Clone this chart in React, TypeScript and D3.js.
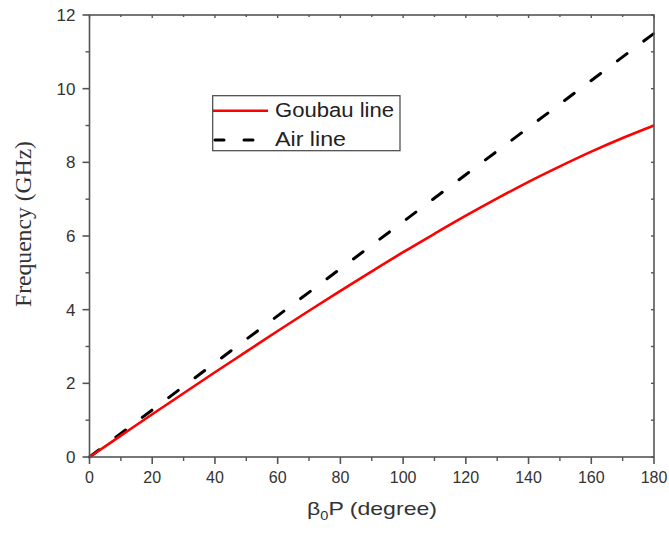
import React from "react";
import * as d3 from "d3";

const goubauX = [0, 10, 20, 30, 40, 50, 60, 70, 80, 90, 100, 110, 120, 130, 140, 150, 160, 170, 180];
const goubauY = [0, 0.58, 1.16, 1.73, 2.3, 2.86, 3.42, 3.97, 4.51, 5.04, 5.56, 6.06, 6.55, 7.02, 7.47, 7.89, 8.29, 8.66, 9.0];
const airX = [0, 180];
const airY = [0, 11.5];
const xTicks = [0, 20, 40, 60, 80, 100, 120, 140, 160, 180];
const yTicks = [0, 2, 4, 6, 8, 10, 12];
const legendLabels = ["Goubau line", "Air line"];

const W = 669, H = 536;
const L = 89.5, R = 654, T = 15, B = 457;

export default function App() {
  const x = d3.scaleLinear().domain([0, 180]).range([L, R]);
  const y = d3.scaleLinear().domain([0, 12]).range([B, T]);
  const line = d3.line<[number, number]>().x(d => x(d[0])).y(d => y(d[1])).curve(d3.curveMonotoneX);
  const goubau = line(goubauX.map((v, i) => [v, goubauY[i]]) as [number, number][]) || "";
  const air = line(airX.map((v, i) => [v, airY[i]]) as [number, number][]) || "";
  const xMinor = d3.range(10, 180, 20);
  const yMinor = d3.range(1, 12, 2);
  const yAll = d3.range(0, 13, 1);
  const xAll = d3.range(0, 181, 10);
  const axisColor = "#555";
  const font = "'Liberation Sans', Arial, sans-serif";
  return (
    <svg width={W} height={H} style={{ position: "absolute", left: 0, top: 0, background: "#fff" }}>
      <rect x={0} y={0} width={W} height={H} fill="#fff" />
      {/* curves */}
      <path d={air} fill="none" stroke="#000" strokeWidth={3} strokeDasharray="12 21" strokeLinecap="round" />
      <path d={goubau} fill="none" stroke="#ff0000" strokeWidth={2.6} />
      {/* frame */}
      <rect x={L} y={T} width={R - L} height={B - T} fill="none" stroke={axisColor} strokeWidth={1.6} />
      {/* bottom ticks outward */}
      {xTicks.map(t => (
        <line key={"xb" + t} x1={x(t)} x2={x(t)} y1={B} y2={B + 7} stroke={axisColor} strokeWidth={1.6} />
      ))}
      {xMinor.map(t => (
        <line key={"xbm" + t} x1={x(t)} x2={x(t)} y1={B} y2={B + 4} stroke={axisColor} strokeWidth={1.4} />
      ))}
      {/* top ticks inward */}
      {xAll.map(t => (
        <line key={"xt" + t} x1={x(t)} x2={x(t)} y1={T} y2={T + (t % 20 === 0 ? 3 : 2)} stroke={axisColor} strokeWidth={1.4} />
      ))}
      {/* left ticks outward */}
      {yTicks.map(t => (
        <line key={"yl" + t} x1={L - 7} x2={L} y1={y(t)} y2={y(t)} stroke={axisColor} strokeWidth={1.6} />
      ))}
      {yMinor.map(t => (
        <line key={"ylm" + t} x1={L - 4} x2={L} y1={y(t)} y2={y(t)} stroke={axisColor} strokeWidth={1.4} />
      ))}
      {/* right ticks inward */}
      {yAll.map(t => (
        <line key={"yr" + t} x1={R - 3} x2={R} y1={y(t)} y2={y(t)} stroke={axisColor} strokeWidth={1.4} />
      ))}
      {/* tick labels */}
      {xTicks.map(t => (
        <text key={"xl" + t} x={x(t)} y={B + 26} textAnchor="middle" fontFamily={font} fontSize={16} fill="#333">{t}</text>
      ))}
      {yTicks.map(t => (
        <text key={"yll" + t} x={L - 14} y={y(t) + 6} textAnchor="end" fontFamily={font} fontSize={17} fill="#333">{t}</text>
      ))}
      {/* axis titles */}
      <text x={307} y={515} fontFamily={font} fontSize={19} fill="#333" textLength={130} lengthAdjust="spacingAndGlyphs">
        β<tspan fontSize={12} dy={5}>0</tspan><tspan dy={-5}>P (degree)</tspan>
      </text>
      <text transform={`translate(31,${224}) rotate(-90)`} textAnchor="middle" fontFamily="'Liberation Serif', 'Times New Roman', serif" fontSize={24} fill="#333" textLength={166} lengthAdjust="spacingAndGlyphs">
        Frequency (GHz)
      </text>
      {/* legend */}
      <rect x={212.7} y={95.7} width={187.3} height={55} fill="#fff" stroke="#444" strokeWidth={1.2} />
      <line x1={213} x2={268} y1={110.7} y2={110.7} stroke="#ff0000" strokeWidth={2.6} />
      <line x1={215} x2={258} y1={140} y2={140} stroke="#000" strokeWidth={3} strokeDasharray="9 20" strokeLinecap="round" />
      <text x={275} y={117} fontFamily={font} fontSize={19.5} fill="#222" textLength={119} lengthAdjust="spacingAndGlyphs">{legendLabels[0]}</text>
      <text x={275} y={146} fontFamily={font} fontSize={19.5} fill="#222" textLength={71} lengthAdjust="spacingAndGlyphs">{legendLabels[1]}</text>
    </svg>
  );
}
